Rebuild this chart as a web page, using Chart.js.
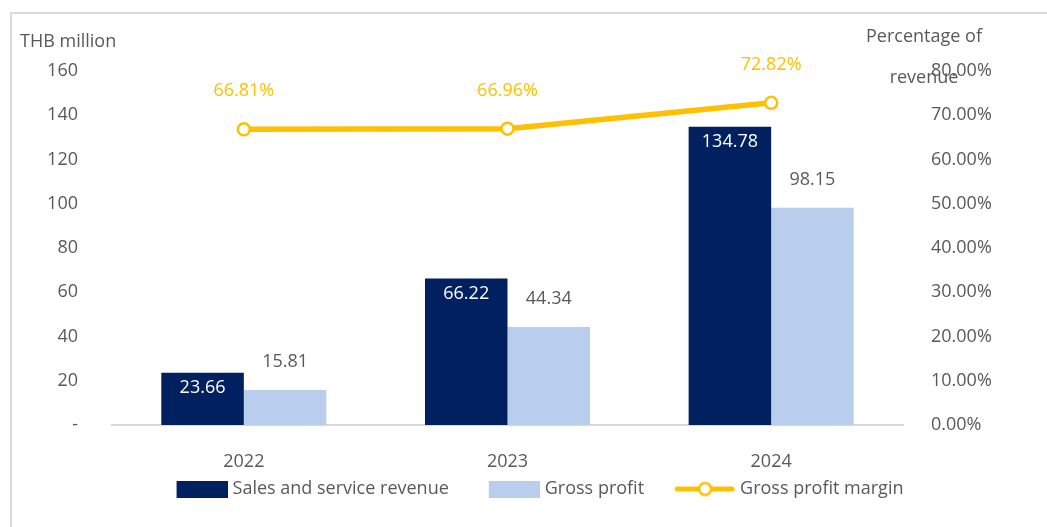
<!DOCTYPE html>
<html>
<head>
<meta charset="utf-8">
<script src="https://cdn.jsdelivr.net/npm/chart.js@4.4.1/dist/chart.umd.min.js"></script>
<style>
  html, body { margin: 0; padding: 0; background: #fff; overflow: hidden; }
  #frame { position: absolute; left: 10px; top: 12px; width: 1100px; height: 600px;
           border-left: 2px solid #d9d9d9; border-top: 2px solid #d9d9d9; }
  #wrap { position: absolute; left: 0; top: 0; width: 1047px; height: 527px; }
</style>
</head>
<body>
<div id="frame"></div>
<div id="wrap"><canvas id="gross-profit-chart"></canvas></div>
<script>
const years = ["2022", "2023", "2024"];
const revenue = [23.66, 66.22, 134.78];
const grossProfit = [15.81, 44.34, 98.15];
const grossMargin = [66.81, 66.96, 72.82];
const leftTickLabels = ["-", "20", "40", "60", "80", "100", "120", "140", "160"];
const rightTickLabels = ["0.00%", "10.00%", "20.00%", "30.00%", "40.00%", "50.00%", "60.00%", "70.00%", "80.00%"];

const NAVY = "#002060";
const LIGHT = "#B9CDEC";
const GOLD = "#FFC000";
const GREY = "#595959";
const FONT = "'Open Sans', 'Noto Sans', sans-serif";

// legend icons: drawn at the right end of a wider transparent canvas,
// so the gap before the next item sits inside the icon
const ICON_W = 85;

const boxIcon = (color) => {
  const c = document.createElement("canvas");
  c.width = ICON_W;
  c.height = 17;
  const g = c.getContext("2d");
  g.fillStyle = color;
  g.fillRect(ICON_W - 51, 0, 51, 17);
  return c;
};

const lineIcon = () => {
  const c = document.createElement("canvas");
  c.width = ICON_W;
  c.height = 17;
  const g = c.getContext("2d");
  g.strokeStyle = GOLD;
  g.lineWidth = 5;
  g.lineCap = "round";
  g.beginPath();
  g.moveTo(ICON_W - 58, 8.5);
  g.lineTo(ICON_W - 3, 8.5);
  g.stroke();
  g.beginPath();
  g.arc(ICON_W - 30, 8.5, 6, 0, Math.PI * 2);
  g.fillStyle = "#fff";
  g.fill();
  g.lineWidth = 2.5;
  g.stroke();
  return c;
};

const valueLabels = {
  id: "valueLabels",
  afterDatasetsDraw(chart) {
    const { ctx } = chart;
    ctx.save();
    ctx.font = "18px " + FONT;
    ctx.textAlign = "center";
    ctx.textBaseline = "middle";
    chart.data.datasets.forEach((ds, i) => {
      const meta = chart.getDatasetMeta(i);
      meta.data.forEach((el, j) => {
        const v = ds.data[j];
        if (ds.labelPos === "line") {
          ctx.fillStyle = GOLD;
          ctx.fillText(v.toFixed(2) + "%", el.x, el.y - 38);
        } else if (ds.labelPos === "inside") {
          ctx.fillStyle = "#fff";
          ctx.fillText(v.toFixed(2), el.x, el.y + 15);
        } else {
          ctx.fillStyle = GREY;
          ctx.fillText(v.toFixed(2), el.x, el.y - 28);
        }
      });
    });
    ctx.restore();
  },
};

const axisTitles = {
  id: "axisTitles",
  afterDraw(chart) {
    const { ctx, chartArea } = chart;
    ctx.save();
    ctx.font = "18px " + FONT;
    ctx.fillStyle = GREY;
    ctx.textBaseline = "middle";
    ctx.textAlign = "left";
    ctx.fillText("THB million", chartArea.left - 92, chartArea.top - 29);
    ctx.textAlign = "center";
    ctx.fillText("Percentage of", chartArea.right + 21, chartArea.top - 34);
    ctx.fillText("revenue", chartArea.right + 21, chartArea.top + 7);
    ctx.restore();
  },
};

const ctx = document.getElementById("gross-profit-chart");

new Chart(ctx, {
  type: "bar",
  data: {
    labels: years,
    datasets: [
      {
        type: "line",
        label: "Gross profit margin",
        data: grossMargin,
        yAxisID: "y1",
        borderColor: GOLD,
        borderWidth: 5.5,
        pointRadius: 6,
        pointBorderWidth: 2.5,
        pointBackgroundColor: "#fff",
        pointBorderColor: GOLD,
        order: 0,
        labelPos: "line",
        icon: lineIcon(),
      },
      {
        label: "Sales and service revenue",
        data: revenue,
        yAxisID: "y",
        backgroundColor: NAVY,
        order: 1,
        labelPos: "inside",
        icon: boxIcon(NAVY),
      },
      {
        label: "Gross profit",
        data: grossProfit,
        yAxisID: "y",
        backgroundColor: LIGHT,
        order: 1,
        labelPos: "above",
        icon: boxIcon(LIGHT),
      },
    ],
  },
  options: {
    responsive: true,
    maintainAspectRatio: false,
    animation: false,
    layout: {
      padding: { left: 3, right: 0, top: 71, bottom: 19 },
    },
    datasets: {
      bar: {
        categoryPercentage: 0.626,
        barPercentage: 1.0,
      },
    },
    plugins: {
      tooltip: { enabled: false },
      legend: {
        position: "bottom",
        labels: {
          usePointStyle: true,
          pointStyleWidth: ICON_W - 8,
          boxHeight: 18,
          padding: 10,
          color: GREY,
          font: { family: FONT, size: 18 },
          generateLabels: (chart) =>
            [1, 2, 0].map((i) => {
              const ds = chart.data.datasets[i];
              return {
                text: ds.label,
                pointStyle: ds.icon,
                fontColor: GREY,
                hidden: false,
                lineWidth: 0,
                datasetIndex: i,
              };
            }),
        },
      },
    },
    scales: {
      x: {
        grid: { display: false, drawTicks: false },
        border: { display: true, color: "#d9d9d9", width: 2 },
        ticks: {
          color: GREY,
          padding: 26,
          font: { family: FONT, size: 18 },
        },
        afterFit: (scale) => {
          scale.height = 45;
        },
      },
      y: {
        position: "left",
        min: 0,
        max: 160,
        grid: { display: false, drawTicks: false },
        border: { display: false },
        ticks: {
          stepSize: 20,
          color: GREY,
          padding: 34,
          font: { family: FONT, size: 18 },
          callback: (v, i) => leftTickLabels[i],
        },
        afterFit: (scale) => {
          scale.width = 109;
        },
      },
      y1: {
        position: "right",
        min: 0,
        max: 80,
        grid: { display: false, drawTicks: false },
        border: { display: false },
        ticks: {
          stepSize: 10,
          color: GREY,
          padding: 28,
          font: { family: FONT, size: 18 },
          callback: (v, i) => rightTickLabels[i],
        },
        afterFit: (scale) => {
          scale.width = 144;
        },
      },
    },
  },
  plugins: [valueLabels, axisTitles],
});
</script>
</body>
</html>
